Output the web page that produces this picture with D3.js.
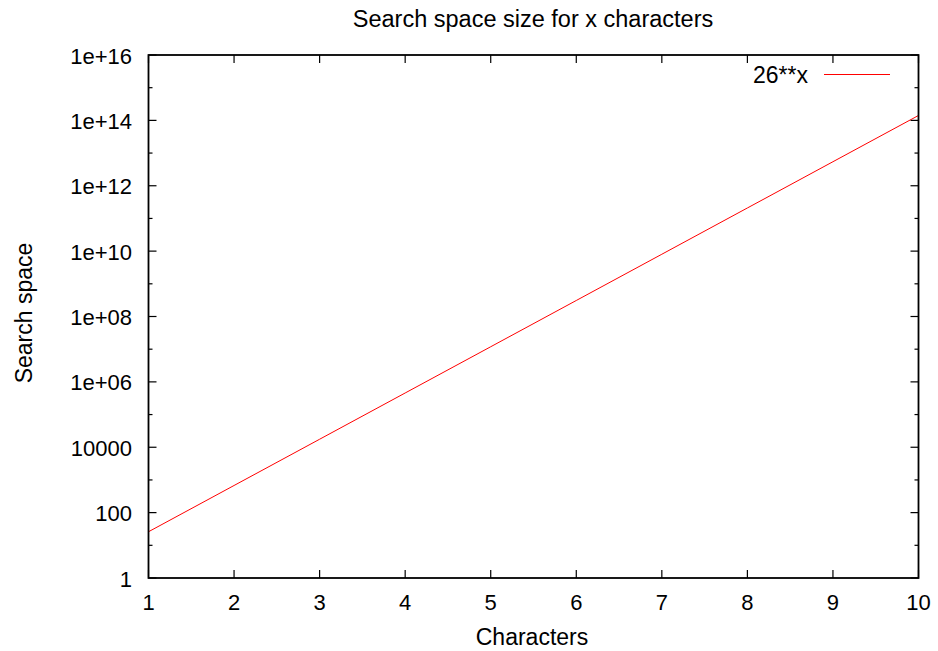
<!DOCTYPE html>
<html><head><meta charset="utf-8">
<script src="https://cdn.jsdelivr.net/npm/d3@7"></script>
<style>body{margin:0;background:#fff}svg{display:block}text{font-family:"Liberation Sans",Arial,sans-serif;fill:#000}</style>
</head><body><svg id="c" width="938" height="651"></svg>
<script>
const characters = [1,2,3,4,5,6,7,8,9,10];
const searchSpace = [26, 676, 17576, 456976, 11881376, 308915776, 8031810176, 208827064576, 5429503678976, 141167095653376];
const xTicks = [1,2,3,4,5,6,7,8,9,10];
const yMajorTicks = [1,1e2,1e4,1e6,1e8,1e10,1e12,1e14,1e16];
const yMinorTicks = [1e1,1e3,1e5,1e7,1e9,1e11,1e13,1e15];
const yTickLabels = ["1","100","10000","1e+06","1e+08","1e+10","1e+12","1e+14","1e+16"];
const seriesName = "26**x";
const title = "Search space size for x characters";
const xTitle = "Characters";
const yTitle = "Search space";

const svg = d3.select("#c");
const L=148.5, R=918.5, T=55, B=578;
const x = d3.scaleLinear().domain([1,10]).range([L,R]);
const y = d3.scaleLog().domain([1,1e16]).range([B,T]);
const fs = 22;

// ticks
const g = svg.append("g").attr("stroke","#000").attr("stroke-width",1.2);
xTicks.forEach(v=>{
  g.append("line").attr("x1",x(v)).attr("x2",x(v)).attr("y1",B).attr("y2",B-8);
  g.append("line").attr("x1",x(v)).attr("x2",x(v)).attr("y1",T).attr("y2",T+8);
});
yMajorTicks.forEach(v=>{
  g.append("line").attr("x1",L).attr("x2",L+8).attr("y1",y(v)).attr("y2",y(v));
  g.append("line").attr("x1",R).attr("x2",R-8).attr("y1",y(v)).attr("y2",y(v));
});
yMinorTicks.forEach(v=>{
  g.append("line").attr("x1",L).attr("x2",L+4).attr("y1",y(v)).attr("y2",y(v));
  g.append("line").attr("x1",R).attr("x2",R-4).attr("y1",y(v)).attr("y2",y(v));
});

// data line
const line = d3.line().x((d,i)=>x(characters[i])).y(d=>y(d));
svg.append("path").datum(searchSpace).attr("d",line).attr("fill","none").attr("stroke","#ff0000").attr("stroke-width",1);

// frame
svg.append("rect").attr("x",L).attr("y",T).attr("width",R-L).attr("height",B-T).attr("fill","none").attr("stroke","#000").attr("stroke-width",1.8);

// labels
xTicks.forEach(v=>{
  svg.append("text").attr("x",x(v)).attr("y",610).attr("text-anchor","middle").attr("font-size",fs).text(v);
});
yMajorTicks.forEach((v,i)=>{
  svg.append("text").attr("x",132).attr("y",y(v)+8.5).attr("text-anchor","end").attr("font-size",fs).text(yTickLabels[i]);
});
svg.append("text").attr("x",533).attr("y",27).attr("text-anchor","middle").attr("font-size",23.5).text(title);
svg.append("text").attr("x",532).attr("y",645).attr("text-anchor","middle").attr("font-size",23).text(xTitle);
svg.append("text").attr("transform","translate(32,313) rotate(-90)").attr("text-anchor","middle").attr("font-size",23).text(yTitle);

// legend
svg.append("text").attr("x",808).attr("y",82.5).attr("text-anchor","end").attr("font-size",23).text(seriesName);
svg.append("line").attr("x1",824).attr("x2",890).attr("y1",74.5).attr("y2",74.5).attr("stroke","#ff0000").attr("stroke-width",1);
</script></body></html>
